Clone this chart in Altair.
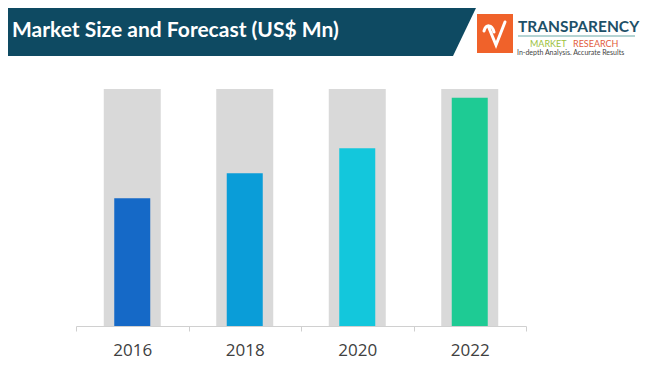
import altair as alt
import pandas as pd

# ---- data ----
years = ["2016", "2018", "2020", "2022"]
values = [53.9, 64.4, 75.0, 96.3]
ceiling = [100, 100, 100, 100]
bar_colors = ["#1569c7", "#0a9dd8", "#13c7dc", "#1ecb94"]

title_text = "Market Size and Forecast (US$ Mn)"
logo_main = "TRANSPARENCY"
logo_sub1 = "MARKET"
logo_sub2 = "RESEARCH"
logo_tag = "In-depth Analysis. Accurate Results"

df = pd.DataFrame({"year": years, "value": values, "ceiling": ceiling, "color": bar_colors})
one = pd.DataFrame({"k": [0]})

x_enc = alt.X(
    "year:N",
    sort=years,
    scale=alt.Scale(paddingInner=0, paddingOuter=0),
    axis=alt.Axis(
        title=None,
        labelAngle=0,
        labelFont="Open Sans",
        labelFontSize=17,
        labelColor="#404040",
        labelPadding=11,
        tickBand="extent",
        tickSize=5,
        tickColor="#cfcfcf",
        domainColor="#d0d0d0",
        grid=False,
    ),
)
y_scale = alt.Scale(domain=[0, 100], nice=False, zero=True)

bg = alt.Chart(df).mark_bar(size=57, color="#d9d9d9").encode(
    x=x_enc,
    y=alt.Y("ceiling:Q", scale=y_scale, axis=None),
)
fg = alt.Chart(df).mark_bar(size=36).encode(
    x=x_enc,
    y=alt.Y("value:Q", scale=y_scale, axis=None),
    color=alt.Color("color:N", scale=None, legend=None),
)

# ---- header decorations (pixel positions relative to plot origin) ----
header = alt.Chart(one).mark_point(
    shape="M0,0 L468,0 L445,48 L0,48 Z",
    size=4, filled=True, opacity=1, color="#0e4a62", strokeWidth=0,
).encode(x=alt.value(-68), y=alt.value(-81))

title = alt.Chart(one).mark_text(
    text=title_text, font="Lato", fontWeight="bold", fontSize=21,
    color="white", align="left", baseline="alphabetic",
).encode(x=alt.value(-64), y=alt.value(-52))

logo_box = alt.Chart(one).mark_rect(color="#f0622a").encode(
    x=alt.value(401), x2=alt.value(437), y=alt.value(-75), y2=alt.value(-36)
)
logo_check = alt.Chart(one).mark_point(
    shape="M-11,-3 C-9,-10 -3,-10 -1,-2 M-6,-6 L1,11 L10,-12",
    size=4, filled=False, opacity=1, color="white", strokeWidth=3, strokeCap="round",
).encode(x=alt.value(419), y=alt.value(-55))

logo_t1 = alt.Chart(one).mark_text(
    text=logo_main, font="Lato", fontWeight="bold", fontSize=15.5,
    color="#1d5068", align="left", baseline="alphabetic",
).encode(x=alt.value(442), y=alt.value(-57))
logo_line = alt.Chart(one).mark_rule(color="#6aa9a8", strokeWidth=1).encode(
    x=alt.value(442), x2=alt.value(559), y=alt.value(-53)
)
logo_t2 = alt.Chart(one).mark_text(
    text=logo_sub1, font="Lato", fontSize=9, color="#9bc13c",
    align="left", baseline="alphabetic",
).encode(x=alt.value(454), y=alt.value(-42))
logo_t3 = alt.Chart(one).mark_text(
    text=logo_sub2, font="Lato", fontSize=9, color="#e25c3c",
    align="left", baseline="alphabetic",
).encode(x=alt.value(497), y=alt.value(-42))
logo_t4 = alt.Chart(one).mark_text(
    text=logo_tag, font="Lato", fontSize=7, color="#444444",
    align="left", baseline="alphabetic",
).encode(x=alt.value(441), y=alt.value(-34))

chart = alt.layer(
    bg, fg, header, title, logo_box, logo_check,
    logo_t1, logo_line, logo_t2, logo_t3, logo_t4,
).properties(
    width=450,
    height=237,
    background="white",
    autosize=alt.AutoSizeParams(type="none"),
    padding={"left": 68, "top": 81, "right": 116, "bottom": 35},
).configure_view(strokeWidth=0, stroke="transparent")

chart.save("out.html", embed_options={"renderer": "svg", "actions": False})
